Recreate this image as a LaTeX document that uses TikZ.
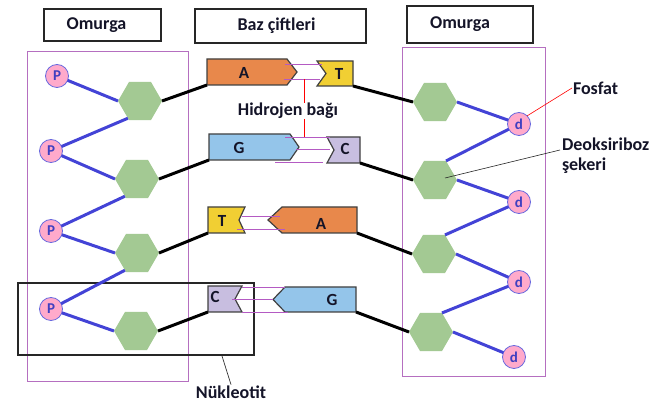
\documentclass[tikz,border=0pt]{standalone}
\usepackage{fontspec}
\setmainfont{Carlito}
\usetikzlibrary{shapes.geometric}

\definecolor{sugar}{HTML}{A3C993}
\definecolor{phos}{HTML}{FFAACB}
\definecolor{bbl}{HTML}{4343D6}
\definecolor{frame}{HTML}{B56FC0}
\definecolor{hbond}{HTML}{B45AC3}
\definecolor{adenine}{HTML}{E8884B}
\definecolor{guanine}{HTML}{94C5EA}
\definecolor{thymine}{HTML}{F1CF33}
\definecolor{cytosine}{HTML}{C8BEE0}
\definecolor{ink}{HTML}{141428}
\definecolor{letterblue}{HTML}{3F3FC0}

\begin{document}
\begin{tikzpicture}[x=1pt,y=-1pt,
  font=\bfseries\fontsize{18}{20}\selectfont,
  every node/.style={outer sep=0pt},
  sugarhex/.style={regular polygon, regular polygon sides=6, minimum size=44pt,
    inner sep=0pt, fill=sugar},
  phosdot/.style={circle, minimum size=23pt, inner sep=0pt, fill=phos,
    draw=bbl!80, line width=0.8pt, text=letterblue,
    font=\bfseries\fontsize{15}{15}\selectfont},
  titlebox/.style={draw=black!85, line width=1.2pt, inner sep=0pt},
  lbl/.style={text=ink, inner sep=1pt},
  baselbl/.style={text=ink, inner sep=1pt, font=\bfseries\fontsize{17}{17}\selectfont},
  bodybox/.style={rectangle, inner sep=0pt},
  basefill/.style={draw=black!75, line width=1.2pt, fill=#1},
  backbone/.style={draw=bbl, line width=3pt},
  link/.style={draw=black, line width=3pt},
  hb/.style={draw=hbond, line width=0.8pt},
  framebox/.style={draw=frame, line width=1pt}
]
\useasboundingbox (0,0) rectangle (665,403);

% title boxes
\node[titlebox, minimum width=117pt, minimum height=32pt] (tl) at (102.5,25) {};
\node[lbl] (tltxt) at (96.5,25) {Omurga};
\node[titlebox, minimum width=171pt, minimum height=34pt] (tm) at (280.5,26) {};
\node[lbl] (tmtxt) at (276.5,25.5) {Baz çiftleri};
\node[titlebox, minimum width=126pt, minimum height=37pt] (tr) at (470,24.5) {};
\node[lbl] (trtxt) at (460,24) {Omurga};

% backbone frames
\draw[framebox] (27,52) rectangle (188,382);
\draw[framebox] (402,48) rectangle (545,377);

% nucleotide frame
\node[draw=black!85, line width=1.2pt, minimum width=236pt, minimum height=72pt,
  inner sep=0pt] (nbox) at (136,319) {};

% sugars and phosphates, left strand
\node[sugarhex] (h1) at (140,101) {};
\node[sugarhex] (h2) at (137,179) {};
\node[sugarhex] (h3) at (137,253) {};
\node[sugarhex] (h4) at (136,331) {};
\node[phosdot] (p1) at (57,76) {P};
\node[phosdot] (p2) at (51,151) {P};
\node[phosdot] (p3) at (51,231) {P};
\node[phosdot] (p4) at (51,309) {P};

% sugars and phosphates, right strand
\node[sugarhex] (r1) at (435,102) {};
\node[sugarhex] (r2) at (435,180) {};
\node[sugarhex] (r3) at (434,254) {};
\node[sugarhex] (r4) at (431,332) {};
\node[phosdot] (d1) at (519,124) {d};
\node[phosdot] (d2) at (519,202) {d};
\node[phosdot] (d3) at (519,282) {d};
\node[phosdot] (d4) at (514,357) {d};

% backbone bonds
\draw[backbone] (p1) -- (h1.west);
\draw[backbone] (h1.235) -- (p2);
\draw[backbone] (p2) -- (h2.west);
\draw[backbone] (h2.235) -- (p3);
\draw[backbone] (p3) -- (h3.west);
\draw[backbone] (h3.235) -- (p4);
\draw[backbone] (p4) -- (h4.west);
\draw[backbone] (r1.east) -- (d1);
\draw[backbone] (d1) -- (r2.60);
\draw[backbone] (r2.east) -- (d2);
\draw[backbone] (d2) -- (r3.60);
\draw[backbone] (r3.east) -- (d3);
\draw[backbone] (d3) -- (r4.60);
\draw[backbone] (r4.east) -- (d4);

% bases
\draw[basefill=adenine]  (207,59) -- (287,59) -- (297,72) -- (287,85) -- (207,85) -- cycle;
\draw[basefill=thymine]  (317,61) -- (353,61) -- (353,86) -- (317,86) -- (326,73.5) -- cycle;
\draw[basefill=guanine]  (209,134) -- (290,134) -- (299,147) -- (290,160) -- (209,160) -- cycle;
\draw[basefill=cytosine] (327,137) -- (360,137) -- (360,163) -- (327,163) -- (334,150) -- cycle;
\draw[basefill=thymine]  (208,207) -- (245,207) -- (239,220) -- (245,233) -- (208,233) -- cycle;
\draw[basefill=adenine]  (357,207) -- (282,207) -- (268,220) -- (282,233) -- (357,233) -- cycle;
\draw[basefill=cytosine] (208,286) -- (242,286) -- (235,299) -- (242,312) -- (208,312) -- cycle;
\draw[basefill=guanine]  (356,287) -- (285,287) -- (273,299.5) -- (285,312) -- (356,312) -- cycle;

\node[bodybox, minimum width=80pt, minimum height=26pt] (a1) at (247,72) {};
\node[bodybox, minimum width=27pt, minimum height=25pt] (t1) at (339.5,73.5) {};
\node[bodybox, minimum width=81pt, minimum height=26pt] (g2) at (249.5,147) {};
\node[bodybox, minimum width=26pt, minimum height=26pt] (c2) at (347,150) {};
\node[bodybox, minimum width=31pt, minimum height=26pt] (t3) at (223.5,220) {};
\node[bodybox, minimum width=75pt, minimum height=26pt] (a3) at (319.5,220) {};
\node[bodybox, minimum width=27pt, minimum height=26pt] (c4) at (221.5,299) {};
\node[bodybox, minimum width=71pt, minimum height=25pt] (g4) at (320.5,299.5) {};

\node[baselbl] (a1txt) at (244,73) {A};
\node[baselbl] (t1txt) at (339,74) {T};
\node[baselbl] (g2txt) at (239,148) {G};
\node[baselbl] (c2txt) at (345,149) {C};
\node[baselbl] (t3txt) at (222,221) {T};
\node[baselbl] (a3txt) at (321,224) {A};
\node[baselbl] (c4txt) at (215,297) {C};
\node[baselbl] (g4txt) at (332,300) {G};

% hydrogen bonds
\draw[hb] (285,64) -- (322,64);
\draw[hb] (284,79) -- (320,79);
\draw[hb] (285,137) -- (330,137);
\draw[hb] (296,149) -- (330,149);
\draw[hb] (275,162) -- (323,162);
\draw[hb] (242,216) -- (280,216);
\draw[hb] (237,229) -- (285,229);
\draw[hb] (242,287) -- (285,287);
\draw[hb] (232,299) -- (273,299);
\draw[hb] (242,312) -- (288,312);

% sugar to base links
\draw[link] (h1.east) -- (a1.south west);
\draw[link] (h2.east) -- (g2.south west);
\draw[link] (h3.east) -- (t3.south west);
\draw[link] (h4.east) -- (c4.south west);
\draw[link] (t1.south east) -- (r1.west);
\draw[link] (c2.south east) -- (r2.west);
\draw[link] (a3.south east) -- (r3.west);
\draw[link] (g4.south east) -- (r4.west);

% callouts
\coordinate (hbtop) at (304,79);
\coordinate (hbbot) at (304,137);
\draw[red, line width=0.8pt] (hbtop) -- (hbbot);
\node[lbl, fill=white, inner sep=0pt] (hyd) at (288,111) {Hidrojen bağı};

\node[lbl, anchor=west] (fosfat) at (572,88) {Fosfat};
\draw[red, line width=0.6pt] (d1.45) -- (fosfat.west);

\node[lbl, anchor=north west, align=left] (seker) at (561,137) {Deoksiriboz\\şekeri};
\coordinate (skin) at (445,178);
\coordinate (skend) at (560,150);
\draw[black!85, line width=0.6pt] (skin) -- (skend);

\node[lbl] (nuk) at (231,392) {Nükleotit};
\coordinate (nbpt) at (222,356);
\draw[black!80, line width=0.7pt] (nbpt) -- (nuk.north);
\end{tikzpicture}
\end{document}
